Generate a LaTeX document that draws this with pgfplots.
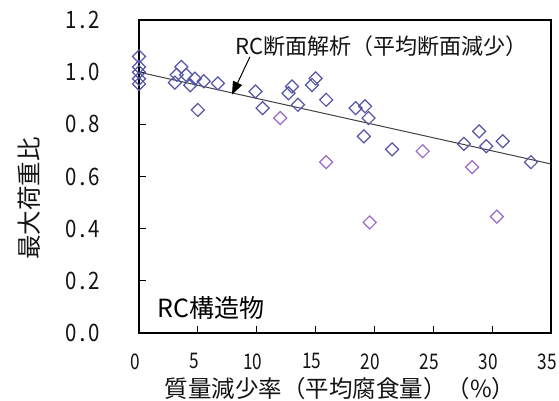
\documentclass[border=0pt]{standalone}
\usepackage{fontspec}
\setmainfont{Noto Sans CJK JP}
\usepackage{graphicx}
\usepackage{pgfplots}
\pgfplotsset{compat=1.18}
\usetikzlibrary{arrows.meta}
\definecolor{dblue}{RGB}{85,85,165}
\definecolor{dpurp}{RGB}{155,105,200}
\definecolor{txt}{RGB}{20,20,20}
\newcommand\cd[1]{\scalebox{0.8}[1]{#1}}
\newcommand\cy[1]{\scalebox{0.85}[1]{#1}}
\newcommand\yt[2]{\cy{#1}\kern3pt.\kern2pt\cy{#2}}
\begin{document}
\begin{tikzpicture}
\useasboundingbox (-139pt,-68pt) rectangle (420pt,333pt);
\begin{axis}[
  at={(0pt,0pt)}, anchor=south west,
  scale only axis, width=412pt, height=313pt,
  xmin=0, xmax=35, ymin=0, ymax=1.2,
  clip=false,
  axis line style={line width=2.2pt, black},
  tick align=inside, tick pos=left,
  major tick length=7pt,
  tick style={line width=0.8pt, black},
  xtick={0,5,10,15,20,25,30,35},
  xticklabels={\cd{0},\cd{5},\cd{10},\cd{15},\cd{20},\cd{25},\cd{30},\cd{35}},
  ytick={0,0.2,0.4,0.6,0.8,1.0,1.2},
  yticklabels={\yt{0}{0},\yt{0}{2},\yt{0}{4},\yt{0}{6},\yt{0}{8},\yt{1}{0},\yt{1}{2}},
  xticklabel style={font=\fontsize{21.5}{21.5}\selectfont, text=txt, yshift=-17pt, xshift=-4pt},
  yticklabel style={font=\fontsize{24}{24}\selectfont, text=txt, xshift=-36pt},
  xlabel={質量減少率（平均腐食量）（\%）},
  ylabel={最大荷重比},
  every axis x label/.style={at={(axis description cs:0.488,-0.177)}, anchor=center, font=\fontsize{23.5}{23.5}\selectfont, text=txt},
  every axis y label/.style={at={(axis description cs:-0.267,0.43)}, anchor=center, rotate=90, font=\fontsize{24.5}{24.5}\selectfont, text=txt},
]
\addplot[color=black!75, line width=1pt] coordinates {(0,1.0) (35,0.648)};
\addplot[only marks, mark=square, mark size=4.6pt, mark options={rotate=45, line width=1.2pt, draw=dblue, fill=none}] coordinates {
(0,1.06) (0,1.02) (0,1.00) (0,0.975) (0,0.955)
(3.6,1.02) (3.2,0.99) (3.05,0.96) (4.0,0.99) (4.35,0.95) (4.75,0.975) (5.5,0.965) (6.7,0.957) (5.0,0.855)
(9.9,0.926) (10.5,0.862) (13.0,0.945) (12.7,0.919) (13.5,0.875) (15.0,0.976) (14.7,0.951) (15.9,0.894)
(18.4,0.862) (19.2,0.869) (19.5,0.824) (19.1,0.754) (21.5,0.704)
(27.6,0.725) (28.9,0.773) (29.5,0.716) (30.9,0.735) (33.3,0.655)
};
\addplot[only marks, mark=square, mark size=4.6pt, mark options={rotate=45, line width=1.2pt, draw=dpurp, fill=none}] coordinates {
(12.0,0.824) (15.9,0.655) (24.1,0.697) (28.3,0.636) (19.6,0.424) (30.4,0.446)
};
\draw[line width=1pt, -{Triangle[length=13pt,width=10pt]}] (axis cs:9.43,1.059) -- (axis cs:7.9,0.914);
\node[anchor=west, inner sep=0pt, font=\fontsize{22}{22}\selectfont, text=txt] at (axis cs:8.16,1.10) {RC断面解析（平均断面減少）};
\node[anchor=west, inner sep=0pt, font=\fontsize{25}{25}\selectfont, text=black] at (axis cs:1.53,0.095) {RC構造物};
\end{axis}
\end{tikzpicture}
\end{document}
